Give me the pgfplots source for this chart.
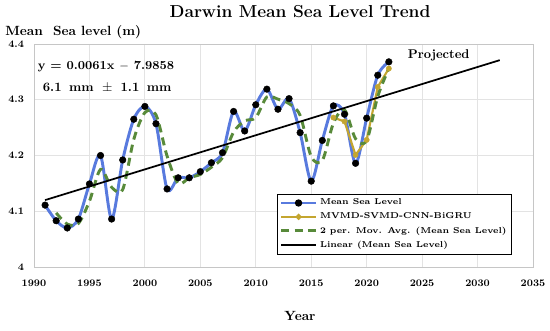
\documentclass[border=0pt]{standalone}
\usepackage{pgfplots}
\pgfplotsset{compat=1.18}
\usepackage{pgfplotstable}
\definecolor{mslblue}{RGB}{88,122,222}
\definecolor{mvgold}{RGB}{196,166,48}
\definecolor{mavgreen}{RGB}{88,138,58}
\pgfplotstableread{
year msl
1991 4.111
1992 4.083
1993 4.070
1994 4.086
1995 4.149
1996 4.200
1997 4.086
1998 4.192
1999 4.265
2000 4.288
2001 4.257
2002 4.140
2003 4.160
2004 4.160
2005 4.171
2006 4.187
2007 4.205
2008 4.279
2009 4.244
2010 4.291
2011 4.319
2012 4.283
2013 4.302
2014 4.241
2015 4.154
2016 4.227
2017 4.289
2018 4.274
2019 4.186
2020 4.267
2021 4.344
2022 4.368
}\msltable
\pgfplotstableread{
year pred
2017 4.268
2018 4.261
2019 4.201
2020 4.228
2021 4.323
2022 4.356
}\predtable
\pgfplotstableread{
year mav
1992 4.097
1993 4.077
1994 4.078
1995 4.118
1996 4.175
1997 4.143
1998 4.139
1999 4.229
2000 4.277
2001 4.273
2002 4.199
2003 4.150
2004 4.160
2005 4.166
2006 4.179
2007 4.196
2008 4.242
2009 4.262
2010 4.268
2011 4.305
2012 4.301
2013 4.293
2014 4.272
2015 4.198
2016 4.191
2017 4.258
2018 4.282
2019 4.230
2020 4.227
2021 4.306
2022 4.356
}\mavtable
\pgfplotstableread{
year lin
1991 4.120
2032 4.371
}\lintable
\begin{document}
\begin{tikzpicture}
\useasboundingbox (-25.5pt,-48pt) rectangle (387pt,200.25pt);
\begin{axis}[
  at={(0,0)}, anchor=south west,
  scale only axis,
  width=374.25pt, height=167.25pt,
  xmin=1990, xmax=2035, ymin=4, ymax=4.4,
  xtick={1990,1995,...,2035},
  ytick={4,4.1,4.2,4.3,4.4},
  yticklabels={4,4.1,4.2,4.3,4.4},
  xticklabel={\pgfmathprintnumber[1000 sep={}]{\tick}},
  major tick length=0pt,
  grid=major,
  grid style={gray!22, line width=0.6pt},
  axis line style={gray!45, line width=0.6pt},
  tick label style={font=\bfseries\fontsize{7.5}{9}\selectfont},
  xticklabel style={yshift=-6pt},
  yticklabel style={xshift=-4pt},
  /pgf/number format/assume math mode=true,
  legend style={at={(0.957,0.327)}, anchor=north east, draw=black,
    fill=white, font=\bfseries\fontsize{6.4}{7.8}\selectfont, row sep=0.4pt,
    inner sep=1.5pt},
  legend cell align=left,
  legend image code/.code={
    \draw[#1, mark=none] plot coordinates {(0pt,0pt) (26pt,0pt)};
    \draw[#1, draw=none] plot[only marks] coordinates {(13pt,0pt)};
  },
  clip=false,
]
\addlegendimage{mslblue, line width=2.2pt, mark=*, mark size=1.6pt, mark options={black, fill=black, solid}}
\addlegendentry{Mean Sea Level}
\addplot[forget plot, mslblue, line width=2.2pt, smooth, tension=0.5, mark=*, mark size=2.5pt,
  mark options={black, fill=black, solid, line width=0.3pt}] table[x=year,y=msl]{\msltable};
\addlegendimage{mvgold, line width=1.6pt, mark=*, mark size=1.4pt, mark options={mvgold, fill=mvgold, solid}}
\addlegendentry{MVMD-SVMD-CNN-BiGRU}
\addplot[forget plot, mvgold, line width=1.6pt, mark=*, mark size=2pt,
  mark options={mvgold, fill=mvgold, solid, line width=0.3pt}] table[x=year,y=pred]{\predtable};
\addplot[mavgreen, line width=2.2pt, smooth, tension=0.5, dash pattern=on 6pt off 4pt] table[x=year,y=mav]{\mavtable};
\addlegendentry{2 per. Mov. Avg. (Mean Sea Level)}
\addplot[black, line width=1.3pt] table[x=year,y=lin]{\lintable};
\addlegendentry{Linear (Mean Sea Level)}
\node[font=\bfseries\fontsize{9.2}{11}\selectfont] at (axis cs:1996.5,4.36) {y = 0.0061x $-$ 7.9858};
\node[font=\bfseries\fontsize{9.6}{11}\selectfont] at (axis cs:1996.6,4.322) {6.1\hspace{2pt} mm\hspace{2.5pt} $\pm$\hspace{2.5pt} 1.1\hspace{2pt} mm};
\node[font=\bfseries\fontsize{9.5}{11}\selectfont] at (axis cs:2026.5,4.38) {Projected};
\end{axis}
\node[font=\bfseries\fontsize{13}{15}\selectfont] at (199.5pt,191.25pt) {Darwin Mean Sea Level Trend};
\node[font=\bfseries\fontsize{10}{12}\selectfont, anchor=west, inner sep=0pt] at (-21.75pt,176.25pt) {Mean\ \ Sea level (m)};
\node[font=\bfseries\fontsize{10}{12}\selectfont] at (199.5pt,-36.75pt) {Year};
\end{tikzpicture}
\end{document}
